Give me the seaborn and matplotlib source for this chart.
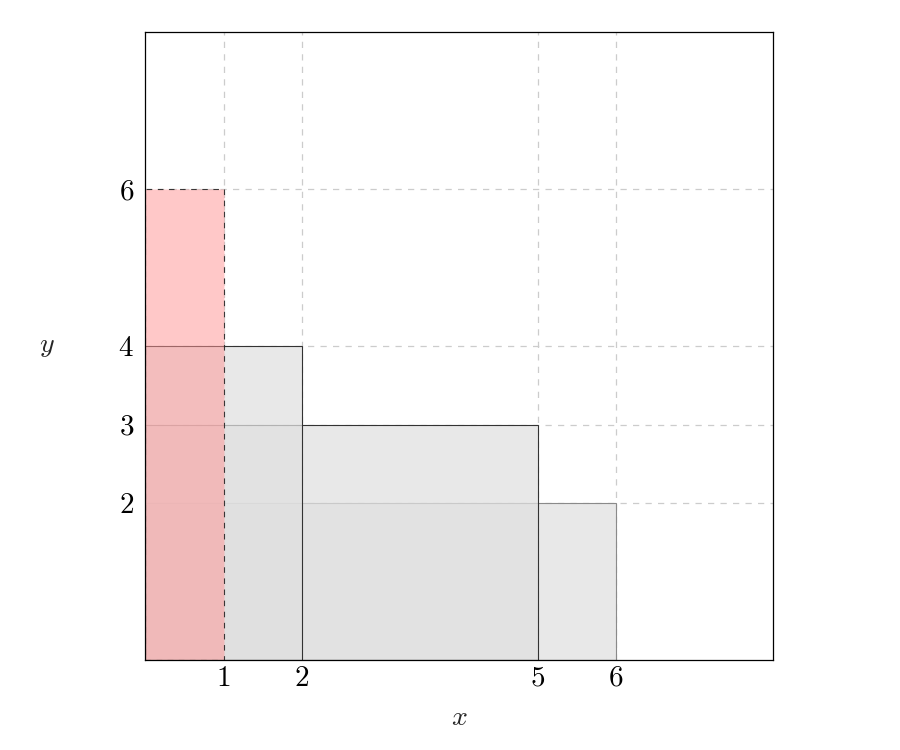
import matplotlib
matplotlib.use("Agg")
import matplotlib.pyplot as plt
import seaborn as sns

# data
red_width = [1]
red_height = [6]
gray_widths = [6, 5, 2]
gray_heights = [2, 3, 4]
x_ticks = [1, 2, 5, 6]
y_ticks = [2, 3, 4, 6]
x_tick_labels = ["1", "2", "5", "6"]
y_tick_labels = ["2", "3", "4", "6"]

sns.set_theme(style="white")
plt.rcParams["mathtext.fontset"] = "cm"
plt.rcParams["font.family"] = ["serif"]
plt.rcParams["font.serif"] = ["cmr10", "DejaVu Serif"]
plt.rcParams["axes.formatter.use_mathtext"] = True

fig = plt.figure(figsize=(9, 7.5), dpi=100)
ax = fig.add_axes([145 / 900, 1 - 660 / 750, 628 / 900, 628 / 750])

ax.set_axisbelow(True)
ax.grid(True, color="#cccccc", linestyle=(0, (5, 5)), linewidth=0.9)

ax.bar([0] * len(gray_widths), gray_heights, width=gray_widths, align="edge",
       color=(224 / 255, 224 / 255, 224 / 255, 0.74),
       edgecolor=["#8a8a8a", "#333333", "#333333"], linewidth=0.8, zorder=1)
ax.bar([0], red_height, width=red_width, align="edge",
       color=(1.0, 150 / 255, 150 / 255, 0.52),
       edgecolor=(0.15, 0.15, 0.15, 0.9), linewidth=0.8, linestyle=(0, (5, 5)),
       zorder=1.5)

ax.set_xlim(0, 8)
ax.set_ylim(0, 8)
ax.set_xticks(x_ticks)
ax.set_xticklabels(["$" + t + "$" for t in x_tick_labels])
ax.set_yticks(y_ticks)
ax.set_yticklabels(["$" + t + "$" for t in y_tick_labels])
ax.tick_params(axis="both", length=0, labelsize=21, colors="black")
ax.tick_params(axis="x", pad=4)
ax.tick_params(axis="y", pad=8)

for s in ax.spines.values():
    s.set_color("black")
    s.set_linewidth(0.9)
    s.set_zorder(5)

ax.set_xlabel("$x$", fontsize=20)
ax.set_ylabel("$y$", fontsize=20, rotation=0)
ax.xaxis.set_label_coords(0.5, -(705 - 660) / 628)
ax.yaxis.set_label_coords((47 - 145) / 628, 0.5)
ax.yaxis.label.set_va("center")
ax.xaxis.label.set_va("top")

fig.savefig("out.png", dpi=100, facecolor="white")
